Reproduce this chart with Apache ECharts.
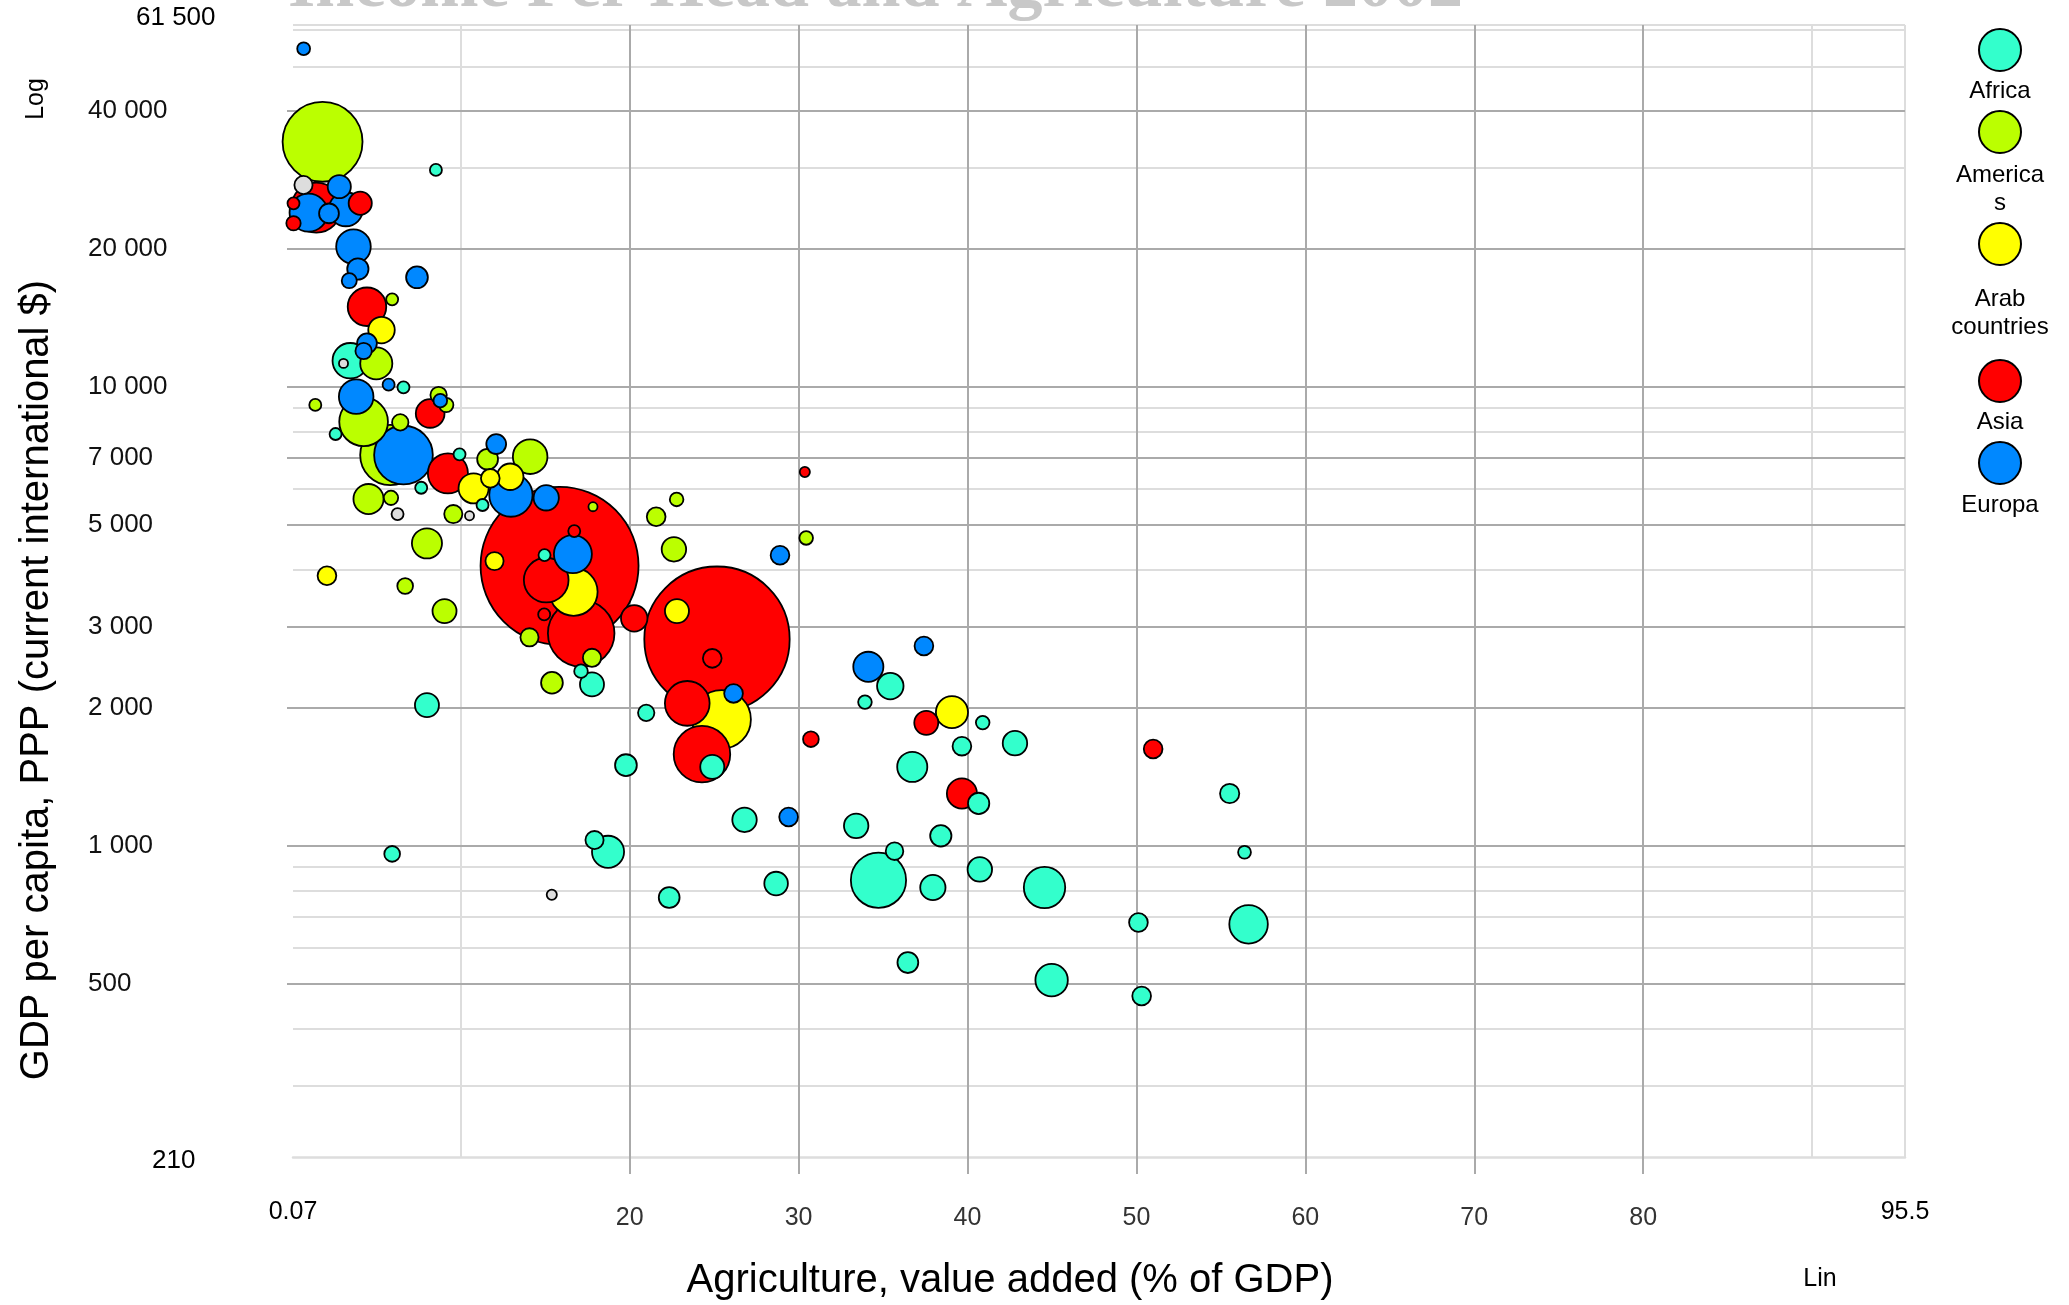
<!DOCTYPE html>
<html>
<head>
<meta charset="utf-8">
<script src="https://cdn.jsdelivr.net/npm/echarts@6/dist/echarts.min.js"></script>
<style>html,body{margin:0;padding:0;background:#fff}#c{width:2069px;height:1305px}</style>
</head>
<body>
<div id="c"></div>
<script>
// [agriculture % of GDP, GDP per capita PPP, population (millions)]
const africa = [
  [8.53,29720,7],[3.46,11410,61],[6.61,9985,7],[2.59,7900,7],[9.93,7135,7],[7.66,6033,7],
  [11.29,5533,7],[14.96,4303,7],[8.0,2027,28],[17.12,2404,9],[17.77,2249,28],[20.98,1950,13],
  [19.78,1500,23],[24.89,1487,28],[26.8,1140,29],[35.43,2230,34],[33.93,2058,9],[40.9,1857,9],
  [39.67,1650,17],[42.81,1675,29],[36.73,1487,44],[40.66,1238,22],[33.41,1106,29],[38.42,1052,22],
  [55.52,1301,18],[56.4,969,8],[35.68,974,15],[34.73,842,148],[37.95,812,31],[40.73,889,29],
  [44.56,812,83],[50.12,681,17],[56.64,675,72],[36.47,557,21],[44.98,510,51],[50.31,471,17],
  [28.67,828,27],[22.34,772,21],[5.94,961,12],[17.92,1030,16],[18.72,971,50]
];
const americas = [
  [1.82,34230,310],[5.94,15530,7],[5.0,11260,50],[1.39,9140,7],[8.69,9608,13],[9.14,9140,10],
  [4.25,8400,115],[6.42,8375,13],[5.83,7108,176],[11.59,6960,21],[14.11,7050,58],[4.54,5700,44],
  [5.87,5735,10],[9.56,5286,16],[17.83,5485,4],[22.78,5690,9],[21.57,5216,17],[22.62,4430,29],
  [30.45,4690,9],[8.0,4564,44],[6.71,3685,12],[9.04,3250,28],[14.07,2848,16],[17.77,2570,16],
  [15.4,2268,23]
];
const arab = [
  [5.31,13310,34],[10.76,6015,44],[11.75,6324,17],[12.93,6375,34],[12.0,4175,16],[2.08,3879,17],
  [16.68,3580,112],[22.8,3250,28],[25.44,1887,167],[39.08,1957,50]
];
const asia = [
  [1.45,24600,121],[4.05,25140,26],[0.1,25140,7],[0.1,22740,10],[4.45,14960,72],[8.19,8760,40],
  [9.24,6485,78],[15.85,4078,1211],[16.72,4855,7],[15.06,3796,97],[14.94,3196,7],[17.13,2906,215],
  [25.17,2822,1025],[24.89,2563,17],[20.27,3133,34],[23.41,2045,97],[24.28,1585,155],[30.37,6530,5],
  [30.73,1709,12],[37.56,1855,28],[39.67,1301,44],[50.99,1626,17]
];
const europe = [
  [0.7,54600,8],[2.81,27330,26],[0.99,23990,70],[3.2,24400,56],[2.2,23900,19],[3.65,20220,58],
  [3.91,18080,22],[3.4,17050,11],[7.41,17340,23],[4.45,12450,19],[4.25,11980,13],[5.73,10120,7],
  [8.79,9340,9],[3.81,9530,58],[6.61,7108,167],[12.1,7510,19],[12.97,5815,91],[15.06,5735,31],
  [16.64,4325,70],[28.9,4300,17],[26.15,2150,17],[29.41,1156,17],[34.13,2457,44],[37.42,2726,17]
];
const other = [
  [0.69,27550,16],[3.06,11260,4],[6.26,5286,7],[10.52,5242,4],[15.39,783,5]
];

const regionNames = ['Africa','Americas','Arab countries','Asia','Europa'];
const legendLabels = ['Africa','America\ns','Arab\ncountries','Asia','Europa'];

const xTickLabels = [0.07,20,30,40,50,60,70,80,95.5];
const xMajorLines = [20,30,40,50,60,70,80];
const xMinorLines = [10,90,95.5];
const yTickLabels = [210,500,1000,2000,3000,5000,7000,10000,20000,40000,61500];
const yMajorLines = [500,1000,2000,3000,5000,7000,10000,20000,40000];
const yMinorLines = [300,400,600,700,800,900,4000,6000,8000,9000,30000,50000,60000,61500];

const FONT = '"Liberation Sans", Arial, sans-serif';
const colors = ['#33ffcc','#bbff00','#ffff00','#ff0000','#0088ff'];
const groups = [africa, americas, arab, asia, europe];

let points = [];
groups.forEach((g, i) => g.forEach(d => points.push({name: regionNames[i], value: d, itemStyle: {color: colors[i]}})));
other.forEach(d => points.push({name: 'Other', value: d, itemStyle: {color: '#dddddd'}}));
points.sort((a, b) => b.value[2] - a.value[2]);

const major = {color: '#aaaaaa', width: 2, type: 'solid'};
const minor = {color: '#dddddd', width: 2, type: 'solid'};
const gridLines = []
  .concat(xMinorLines.map(v => ({xAxis: v, lineStyle: minor})))
  .concat(yMinorLines.map(v => ({yAxis: v, lineStyle: minor})))
  .concat(xMajorLines.map(v => ({xAxis: v, lineStyle: major})))
  .concat(yMajorLines.map(v => ({yAxis: v, lineStyle: major})));

function fmtNum(v) {
  return String(Math.round(v)).replace(/\B(?=(\d{3})+(?!\d))/g, ' ');
}

const legendY = [50, 132, 244, 381, 463];
const legendTextY = [91, 189, 313, 422, 505];
const graphic = [
  {type: 'text', x: 288, y: -12, z: 10, style: {text: 'Income Per Head and Agriculture 2002',
    font: 'bold 70px "Liberation Serif", "Times New Roman", serif', fill: '#c8c8c8', align: 'left', verticalAlign: 'middle'}},
  {type: 'text', x: 36, y: 99, rotation: Math.PI / 2, style: {text: 'Log', font: '25px ' + FONT, fill: '#000', align: 'center', verticalAlign: 'middle'}},
  {type: 'text', x: 1820, y: 1279, style: {text: 'Lin', font: '25px ' + FONT, fill: '#000', align: 'center', verticalAlign: 'middle'}}
];
regionNames.forEach((n, i) => {
  graphic.push({type: 'circle', shape: {cx: 2000, cy: legendY[i], r: 21}, style: {fill: colors[i], stroke: '#000', lineWidth: 2}});
  graphic.push({type: 'text', x: 2000, y: legendTextY[i], style: {text: legendLabels[i], font: '24px ' + FONT, fill: '#000', align: 'center', verticalAlign: 'middle', lineHeight: 28}});
});

const chart = echarts.init(document.getElementById('c'), null, {renderer: 'canvas'});
chart.setOption({
  animation: false,
  backgroundColor: '#ffffff',
  grid: {left: 293, top: 25, width: 1612, height: 1132, containLabel: false, outerBoundsMode: 'none'},
  xAxis: {
    type: 'value', min: 0.07, max: 95.5,
    axisLine: {show: true, onZero: false, lineStyle: {color: '#dddddd', width: 2.5}},
    axisTick: {show: true, customValues: xMajorLines, length: 17, lineStyle: {color: '#aaaaaa', width: 2}},
    axisLabel: {
      customValues: xTickLabels, margin: 48, fontSize: 25, color: '#333', fontFamily: FONT, lineHeight: 26,
      formatter: v => (Math.abs(v - 0.07) < 1e-6 || Math.abs(v - 95.5) < 1e-6) ? '{e|' + v + '}' : String(Math.round(v)),
      rich: {e: {color: '#000', fontSize: 25, fontFamily: FONT, lineHeight: 14}}
    },
    splitLine: {show: false},
    name: 'Agriculture, value added (% of GDP)', nameLocation: 'middle', nameGap: 104,
    nameTextStyle: {fontSize: 40, color: '#000', fontFamily: FONT, padding: [0, 178, 0, 0]}
  },
  yAxis: {
    type: 'log', logBase: 10, min: 210, max: 61500,
    axisLine: {show: false},
    axisTick: {show: true, customValues: yMajorLines, length: 6, lineStyle: {color: '#aaaaaa', width: 2}},
    axisLabel: {
      customValues: yTickLabels, align: 'left', margin: 205, fontSize: 26, color: '#111', fontFamily: FONT,
      formatter: v => {
        const s = fmtNum(v);
        if (Math.abs(v - 61500) < 1) return '{t|' + s + '}';
        if (Math.abs(v - 210) < 1) return '{b|' + s + '}';
        return s;
      },
      rich: {
        t: {padding: [0, 0, 14, 48], fontSize: 26, fontFamily: FONT, color: '#000'},
        b: {padding: [8, 0, 0, 64], fontSize: 26, fontFamily: FONT, color: '#000'}
      }
    },
    splitLine: {show: false},
    name: 'GDP per capita, PPP (current international $)', nameLocation: 'middle', nameGap: 236, nameRotate: 90,
    nameTextStyle: {fontSize: 40, color: '#000', fontFamily: FONT, padding: [0, 178, 0, 0]}
  },
  graphic: graphic,
  series: [
    {
      type: 'scatter', data: [], z: 1, silent: true,
      markLine: {silent: true, z: 1, symbol: ['none', 'none'], animation: false, label: {show: false},
        emphasis: {disabled: true}, data: gridLines}
    },
    {
      name: 'Countries', type: 'scatter', z: 3, clip: false,
      data: points,
      symbolSize: v => 4.54 * Math.sqrt(v[2]),
      itemStyle: {borderColor: '#000', borderWidth: 1.8, opacity: 1},
      emphasis: {disabled: true}
    }
  ]
});
</script>
</body>
</html>
